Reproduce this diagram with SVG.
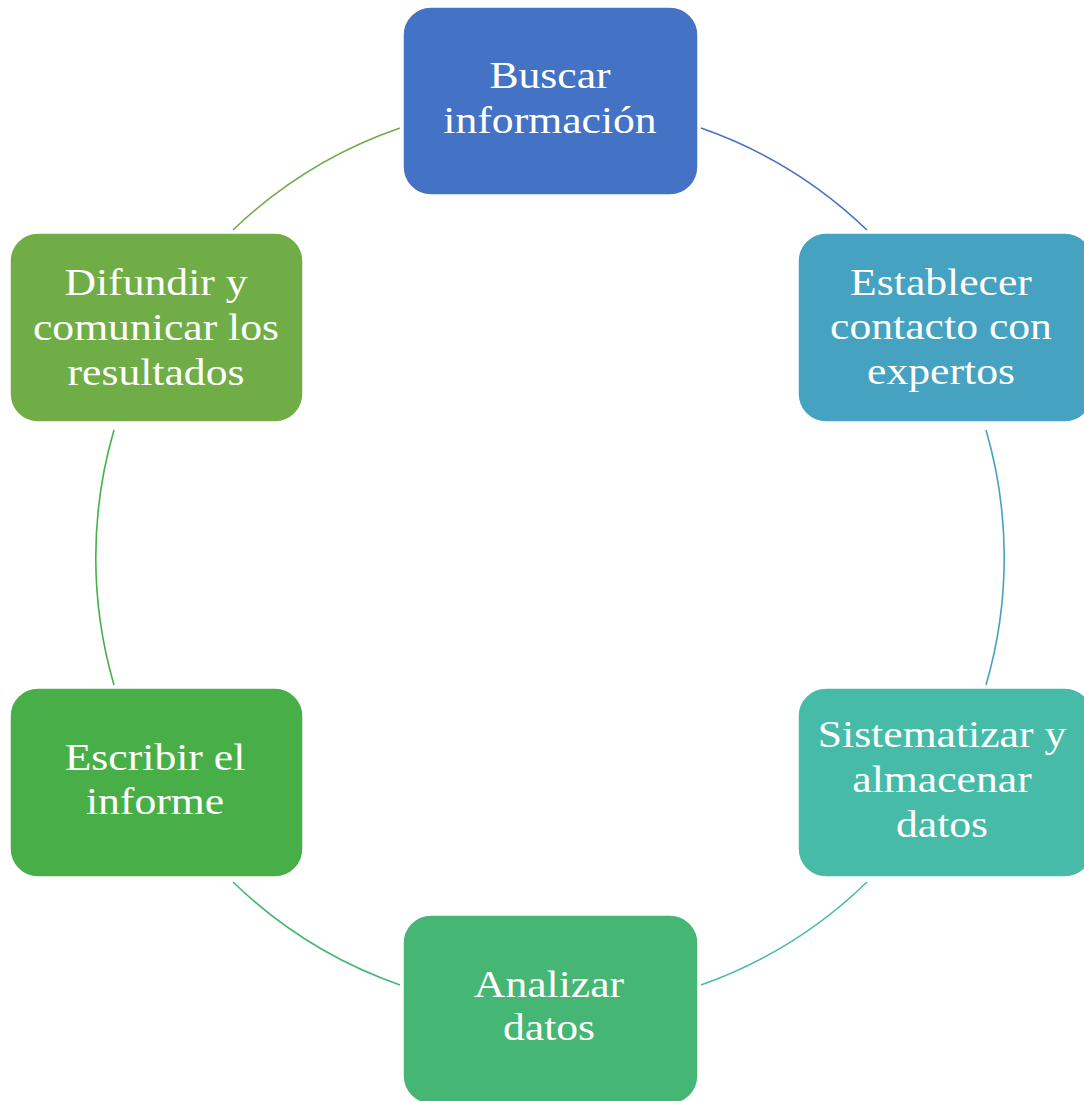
<svg xmlns="http://www.w3.org/2000/svg" width="1084" height="1101" viewBox="0 0 1084 1101">
<style>
.node rect{stroke:#ffffff;stroke-width:1.5}
.lbl{font-family:"Liberation Serif","Times New Roman",serif;font-size:39px;fill:#ffffff;text-anchor:middle}
.arc{fill:none;stroke-width:1.6}
</style>
<rect width="1084" height="1101" fill="#ffffff"/>
<g id="connectors">
<path class="arc" stroke="#4472C4" d="M701,128 A455,455 0 0 1 867,230"/>
<path class="arc" stroke="#45A2C0" d="M986,430 A455,455 0 0 1 986,685"/>
<path class="arc" stroke="#46BBA8" d="M867,882 A455,455 0 0 1 701,985"/>
<path class="arc" stroke="#46B674" d="M400,985 A455,455 0 0 1 233,882"/>
<path class="arc" stroke="#48AF48" d="M114,685 A455,455 0 0 1 114,430"/>
<path class="arc" stroke="#70AD47" d="M233,230 A455,455 0 0 1 400,128"/>
</g>
<g id="node-buscar" class="node">
<rect x="403" y="7" width="295" height="188" rx="28" fill="#4472C4"/>
<g transform="translate(550,0) scale(1.12,1)"><text class="lbl" x="0" y="88">Buscar</text><text class="lbl" x="0" y="133">información</text></g>
</g>
<g id="node-establecer" class="node">
<rect x="798" y="233" width="295" height="189" rx="28" fill="#45A2C0"/>
<g transform="translate(941,0) scale(1.12,1)"><text class="lbl" x="0" y="295">Establecer</text><text class="lbl" x="0" y="339">contacto con</text><text class="lbl" x="0" y="384">expertos</text></g>
</g>
<g id="node-sistematizar" class="node">
<rect x="798" y="688" width="295" height="189" rx="28" fill="#46BBA8"/>
<g transform="translate(942,0) scale(1.12,1)"><text class="lbl" x="0" y="747">Sistematizar y</text><text class="lbl" x="0" y="792">almacenar</text><text class="lbl" x="0" y="837">datos</text></g>
</g>
<g id="node-analizar" class="node">
<rect x="403" y="915" width="295" height="189" rx="28" fill="#46B674"/>
<g transform="translate(549,0) scale(1.12,1)"><text class="lbl" x="0" y="997">Analizar</text><text class="lbl" x="0" y="1040">datos</text></g>
</g>
<g id="node-escribir" class="node">
<rect x="10" y="688" width="293" height="189" rx="28" fill="#48AF48"/>
<g transform="translate(155,0) scale(1.12,1)"><text class="lbl" x="0" y="770">Escribir el</text><text class="lbl" x="0" y="814">informe</text></g>
</g>
<g id="node-difundir" class="node">
<rect x="10" y="233" width="293" height="189" rx="28" fill="#70AD47"/>
<g transform="translate(156,0) scale(1.12,1)"><text class="lbl" x="0" y="295">Difundir y</text><text class="lbl" x="0" y="340">comunicar los</text><text class="lbl" x="0" y="385">resultados</text></g>
</g>
</svg>
